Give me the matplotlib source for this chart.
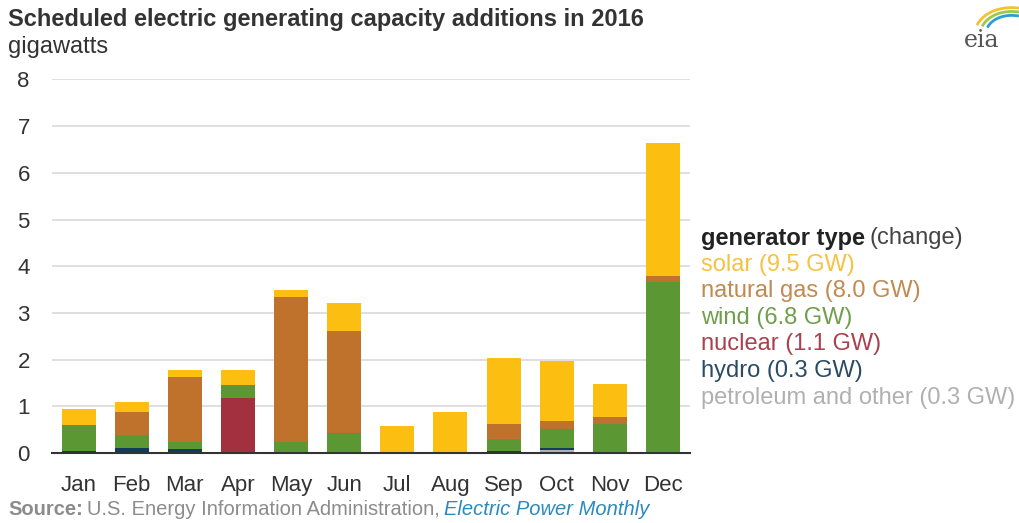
import matplotlib
matplotlib.use("Agg")
import matplotlib.pyplot as plt
from matplotlib.patches import Arc
import numpy as np

months = ["Jan", "Feb", "Mar", "Apr", "May", "Jun", "Jul", "Aug", "Sep", "Oct", "Nov", "Dec"]
petroleum = [0.00, 0.00, 0.00, 0.03, 0.00, 0.00, 0.00, 0.00, 0.00, 0.07, 0.00, 0.00]
hydro     = [0.04, 0.11, 0.09, 0.00, 0.00, 0.00, 0.00, 0.00, 0.04, 0.04, 0.00, 0.00]
nuclear   = [0.00, 0.00, 0.00, 1.14, 0.00, 0.00, 0.00, 0.00, 0.00, 0.00, 0.00, 0.00]
wind      = [0.56, 0.27, 0.14, 0.28, 0.23, 0.43, 0.00, 0.03, 0.26, 0.40, 0.62, 3.66]
gas       = [0.00, 0.50, 1.40, 0.00, 3.12, 2.19, 0.00, 0.00, 0.31, 0.18, 0.14, 0.12]
solar     = [0.35, 0.22, 0.15, 0.32, 0.13, 0.59, 0.57, 0.85, 1.42, 1.28, 0.71, 2.86]

series = [
    ("petroleum and other (0.3 GW)", petroleum, "#b3b3b3"),
    ("hydro (0.3 GW)", hydro, "#123b5c"),
    ("nuclear (1.1 GW)", nuclear, "#a3303f"),
    ("wind (6.8 GW)", wind, "#5b9733"),
    ("natural gas (8.0 GW)", gas, "#bf722b"),
    ("solar (9.5 GW)", solar, "#fdbe12"),
]
legend_order = ["solar (9.5 GW)", "natural gas (8.0 GW)", "wind (6.8 GW)",
                "nuclear (1.1 GW)", "hydro (0.3 GW)", "petroleum and other (0.3 GW)"]
legend_colors = {"solar (9.5 GW)": "#f5c242", "natural gas (8.0 GW)": "#c08a52",
                 "wind (6.8 GW)": "#6f9f4c", "nuclear (1.1 GW)": "#a9414e",
                 "hydro (0.3 GW)": "#2b4a63", "petroleum and other (0.3 GW)": "#b0b0b0"}

plt.rcParams['font.family'] = ['Liberation Sans', 'DejaVu Sans']

fig = plt.figure(figsize=(10.2, 5.23), dpi=100)
ax = fig.add_axes([0.051, 0.134, 0.625, 0.714])

x = np.arange(len(months))
bottom = np.zeros(len(months))
for name, vals, col in series:
    v = np.array(vals)
    ax.bar(x, v, width=0.64, bottom=bottom, color=col, zorder=3, linewidth=0)
    bottom += v

ax.set_xlim(-0.5, 11.5)
ax.set_ylim(0, 8)
ax.set_yticks(range(0, 9))
ax.set_xticks(x)
ax.set_xticklabels(months)
ax.grid(axis='y', color='#d9d9d9', linewidth=1.2, zorder=0)
for s in ['top', 'right', 'left']:
    ax.spines[s].set_visible(False)
ax.spines['bottom'].set_color('#333333')
ax.spines['bottom'].set_linewidth(1.5)
ax.spines['bottom'].set_zorder(4)
ax.tick_params(axis='both', length=0, labelsize=16, colors='#333333')
ax.tick_params(axis='y', pad=16)
ax.tick_params(axis='x', pad=16)

fig.text(0.008, 0.962, "Scheduled electric generating capacity additions in 2016",
         fontsize=17, fontweight='bold', color='#333333', va='center')
fig.text(0.008, 0.910, "gigawatts", fontsize=17, color='#333333', va='center')

# legend
lx = 0.687
ly0 = 1 - 238 / 523
dy = 26.6 / 523
t = fig.text(lx, ly0, "generator type", fontsize=17, fontweight='bold', color='#222222', va='center')
fig.canvas.draw()
bb = t.get_window_extent()
fig.text(lx + bb.width / fig.bbox.width + 0.005, ly0, "(change)", fontsize=17,
         color='#444444', va='center')
for i, name in enumerate(legend_order):
    fig.text(lx, ly0 - (i + 1) * dy, name, fontsize=17, color=legend_colors[name], va='center')

# source
s1 = fig.text(0.008, 0.025, "Source:", fontsize=14.5, fontweight='bold', color='#8c8c8c', va='center')
fig.canvas.draw()
b1 = s1.get_window_extent()
x2 = 0.008 + b1.width / fig.bbox.width + 0.004
s2 = fig.text(x2, 0.025, "U.S. Energy Information Administration,", fontsize=14.5,
              color='#8c8c8c', va='center')
fig.canvas.draw()
b2 = s2.get_window_extent()
x3 = x2 + b2.width / fig.bbox.width + 0.004
fig.text(x3, 0.025, "Electric Power Monthly", fontsize=14.5, style='italic',
         color='#2a8ac0', va='center')

# eia logo
fig.text(0.962, 0.922, "eia", fontsize=17, family='DejaVu Serif', color='#555555',
         ha='center', va='center')
lax = fig.add_axes([0.945, 0.945, 0.055, 0.045])
lax.set_xlim(0, 1)
lax.set_ylim(0, 1)
lax.axis('off')
for r, c in [(1.0, '#f2c230'), (0.85, '#9cc94a'), (0.7, '#2aa0d0')]:
    lax.add_patch(Arc((0.85, -0.2), r * 1.3, r * 2.2, theta1=80, theta2=150,
                      color=c, linewidth=2))

fig.savefig("out.png", dpi=100, facecolor='white')
